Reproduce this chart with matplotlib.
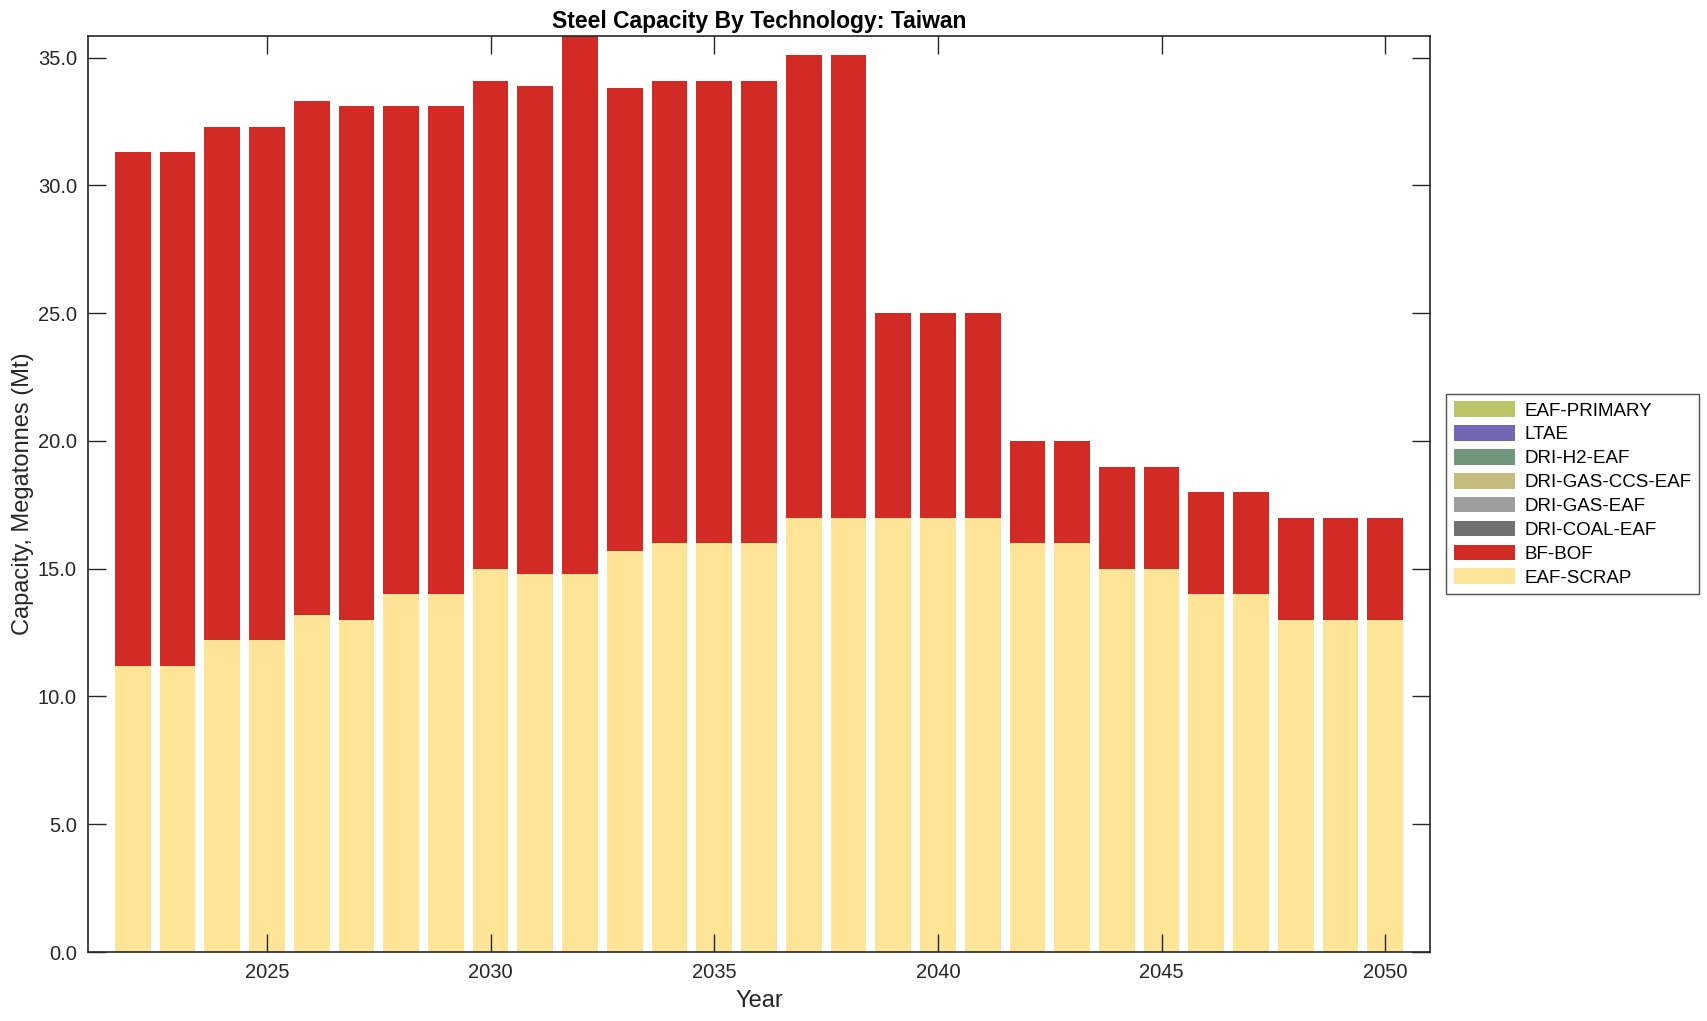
import numpy as np
import matplotlib
matplotlib.use("Agg")
import matplotlib.pyplot as plt

plt.rcParams['font.family'] = ['Liberation Sans', 'DejaVu Sans']

years = list(range(2022, 2051))
eaf_scrap = [11.2, 11.2, 12.2, 12.2, 13.2, 13.0, 14.0, 14.0, 15.0, 14.8, 14.8, 15.7, 16.0, 16.0, 16.0,
             17.0, 17.0, 17.0, 17.0, 17.0, 16.0, 16.0, 15.0, 15.0, 14.0, 14.0, 13.0, 13.0, 13.0]
total = [31.3, 31.3, 32.3, 32.3, 33.3, 33.1, 33.1, 33.1, 34.1, 33.9, 35.85, 33.8, 34.1, 34.1, 34.1,
         35.1, 35.1, 25.0, 25.0, 25.0, 20.0, 20.0, 19.0, 19.0, 18.0, 18.0, 17.0, 17.0, 17.0]
bf_bof = [round(t - s, 2) for t, s in zip(total, eaf_scrap)]
zeros = [0.0] * len(years)

# stacking order bottom -> top
techs = ["EAF-SCRAP", "BF-BOF", "DRI-COAL-EAF", "DRI-GAS-EAF", "DRI-GAS-CCS-EAF",
         "DRI-H2-EAF", "LTAE", "EAF-PRIMARY"]
values = [eaf_scrap, bf_bof, zeros, zeros, zeros, zeros, zeros, zeros]
colors = ["#FEE496", "#D22B26", "#707070", "#9E9E9E", "#C6BC7E", "#72967A", "#7366B5", "#BDC46A"]

fig = plt.figure(figsize=(17.08, 10.21), dpi=100)
ax = fig.add_axes([88 / 1708, 1 - 952 / 1021, (1430 - 88) / 1708, (952 - 36) / 1021])

x = np.array(years)
bottom = np.zeros(len(years))
handles = []
for name, vals, col in zip(techs, values, colors):
    v = np.array(vals)
    h = ax.bar(x, v, 0.8, bottom=bottom, color=col, edgecolor="none", label=name)
    handles.append(h)
    bottom += v

ax.set_xlim(2021, 2051)
ax.set_ylim(0, max(total))
ax.set_yticks(np.arange(0, 36, 5))
ax.set_yticklabels([f"{t:.1f}" for t in np.arange(0, 36, 5)])
ax.set_xticks([2025, 2030, 2035, 2040, 2045, 2050])
ax.tick_params(direction="in", length=13, width=1, top=True, right=True,
               labelsize=14.5, colors="#262626", pad=8)
for s in ax.spines.values():
    s.set_linewidth(1.2)
    s.set_color("#262626")

ax.set_xlabel("Year", fontsize=17, color="#262626", labelpad=6)
ax.set_ylabel("Capacity, Megatonnes (Mt)", fontsize=17, color="#262626", labelpad=3)
ax.set_title("Steel Capacity By Technology: Taiwan", fontsize=16.5, fontweight="bold", pad=6)

leg = ax.legend(handles[::-1], techs[::-1], loc="center left", bbox_to_anchor=(1.012, 0.5),
                fontsize=13.5, frameon=True, fancybox=False, edgecolor="#262626",
                handlelength=3.3, handleheight=0.9, labelspacing=0.3, borderpad=0.4,
                borderaxespad=0, handletextpad=0.5)
leg.get_frame().set_linewidth(1.0)

fig.savefig("out.png", dpi=100)
